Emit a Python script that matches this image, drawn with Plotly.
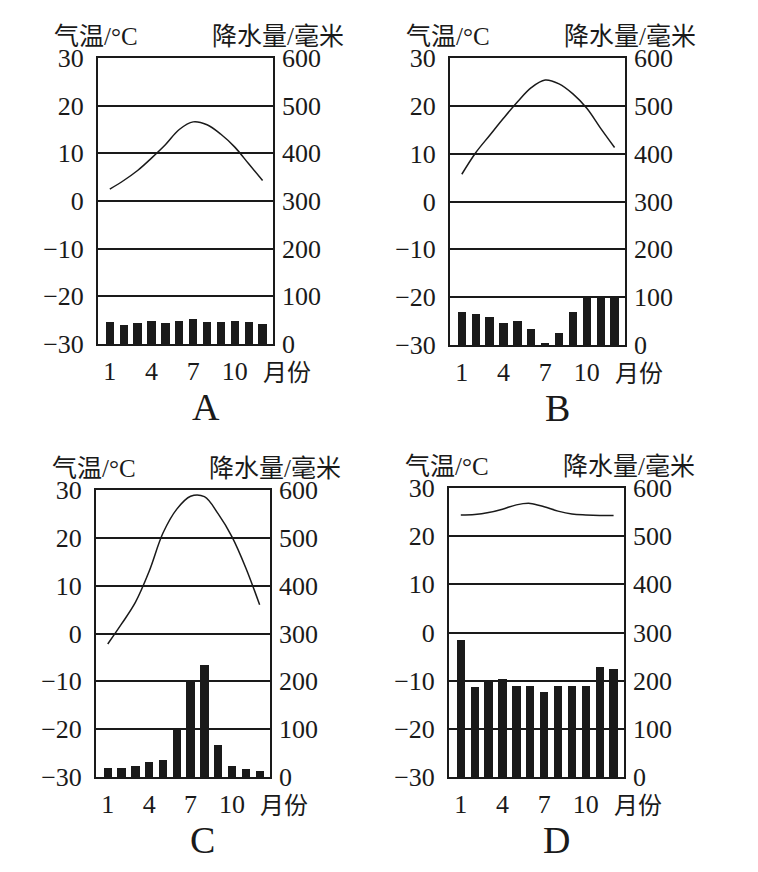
import plotly.graph_objects as go

months = list(range(1, 13))
month_ticks = [1, 4, 7, 10]

# temperature (°C) and precipitation (mm) per month
temp_a = [2.5, 4.3, 6.4, 9.0, 11.8, 15.0, 16.6, 16.0, 14.0, 11.3, 7.8, 4.3]
rain_a = [46, 40, 44, 49, 44, 48, 52, 46, 46, 49, 46, 42]

temp_b = [5.7, 10.2, 13.8, 17.4, 20.8, 23.8, 25.4, 24.6, 22.5, 19.5, 15.3, 11.3]
rain_b = [70, 65, 58, 45, 50, 34, 5, 26, 70, 100, 100, 100]

temp_c = [-2.2, 2.0, 6.5, 13.0, 21.0, 26.0, 28.7, 28.6, 25.0, 20.2, 13.7, 6.0]
rain_c = [19, 19, 24, 32, 36, 100, 200, 235, 66, 24, 17, 12]

temp_d = [24.4, 24.5, 24.9, 25.6, 26.5, 26.8, 26.1, 25.2, 24.6, 24.4, 24.3, 24.3]
rain_d = [285, 187, 200, 203, 189, 189, 176, 189, 189, 189, 229, 225]

temp_ticks = [-30, -20, -10, 0, 10, 20, 30]
rain_ticks = [0, 100, 200, 300, 400, 500, 600]

panels = [
    ("A", temp_a, rain_a),
    ("B", temp_b, rain_b),
    ("C", temp_c, rain_c),
    ("D", temp_d, rain_d),
]

# the page body has an 8px margin, so the figure is drawn 16px smaller
# and every position below is given in window pixels
PAD = 8
W, H = 758 - 2 * PAD, 872 - 2 * PAD
# plot boxes in window pixels: left, right, top, bottom
boxes = [(98, 273, 58, 344), (450, 625, 58, 345), (96, 270, 490, 777), (449, 624, 488, 777)]

SERIF = "Liberation Serif"
CJK = "Noto Sans CJK SC"
INK = "#1a1a1a"


def px(x):
    return (x - PAD) / W


def py(y):
    return 1 - (y - PAD) / H


def serif(s):
    return "<span style='font-family:%s'>%s</span>" % (SERIF, s)


fig = go.Figure()
layout = dict(
    width=W, height=H,
    margin=dict(l=0, r=0, t=0, b=0, autoexpand=False),
    paper_bgcolor="white", plot_bgcolor="white",
    showlegend=False, bargap=0,
    font=dict(family=SERIF, color=INK),
)
annotations = []

for i, (name, temp, rain) in enumerate(panels):
    n = i + 1
    xa = "x" if n == 1 else "x%d" % n
    yt = 2 * n - 1
    yr = 2 * n
    yta = "y" if yt == 1 else "y%d" % yt
    yra = "y%d" % yr
    l, r, t, b = boxes[i]

    fig.add_trace(go.Bar(x=months, y=rain, width=0.6, marker=dict(color=INK, line=dict(width=0)),
                         xaxis=xa, yaxis=yra))
    fig.add_trace(go.Scatter(x=months, y=temp, mode="lines",
                             line=dict(color=INK, width=1.5, shape="spline", smoothing=1.0),
                             xaxis=xa, yaxis=yta))

    xkey = "xaxis" if n == 1 else "xaxis%d" % n
    ytkey = "yaxis" if yt == 1 else "yaxis%d" % yt
    yrkey = "yaxis%d" % yr

    layout[xkey] = dict(
        domain=[px(l), px(r)], anchor=yta, range=[0.15, 12.75], automargin=False,
        tickvals=month_ticks, ticktext=[str(m) for m in month_ticks],
        showgrid=False, zeroline=False, showline=True, mirror=True,
        linecolor=INK, linewidth=2, ticks="",
        tickfont=dict(family=SERIF, size=26, color=INK),
        ticklabelstandoff=3, fixedrange=True,
    )
    layout[ytkey] = dict(
        domain=[py(b), py(t)], anchor=xa, range=[-30, 30], automargin=False,
        tickvals=temp_ticks, showgrid=True, gridcolor=INK, gridwidth=1.8,
        zeroline=False, showline=True, mirror=True, linecolor=INK, linewidth=2,
        ticks="", tickfont=dict(family=SERIF, size=26, color=INK),
        ticklabelstandoff=7, fixedrange=True,
    )
    layout[yrkey] = dict(
        domain=[py(b), py(t)], anchor=xa, overlaying=yta, side="right", range=[0, 600],
        automargin=False, tickvals=rain_ticks, showgrid=False, zeroline=False, showline=False,
        ticks="", tickfont=dict(family=SERIF, size=26, color=INK),
        ticklabelstandoff=8, fixedrange=True,
    )

    # axis titles above the box
    annotations.append(dict(text="气温" + serif("/°C"), x=px(l - 2), y=py(t - 24),
                            xref="paper", yref="paper", xanchor="center", yanchor="middle",
                            showarrow=False, font=dict(family=CJK, size=25, color=INK)))
    annotations.append(dict(text="降水量" + serif("/") + "毫米", x=px(r + 5), y=py(t - 24),
                            xref="paper", yref="paper", xanchor="center", yanchor="middle",
                            showarrow=False, font=dict(family=CJK, size=25, color=INK)))
    # month unit next to the x tick labels
    annotations.append(dict(text="月份", x=px(r + 14), y=py(b + 26), xref="paper", yref="paper",
                            xanchor="center", yanchor="middle", showarrow=False,
                            font=dict(family=CJK, size=24, color=INK)))
    # panel letter
    annotations.append(dict(text=name, x=px((l + r) / 2 + 20), y=py(b + 63), xref="paper", yref="paper",
                            xanchor="center", yanchor="middle", showarrow=False,
                            font=dict(family=SERIF, size=38, color=INK)))

layout["annotations"] = annotations
fig.update_layout(**layout)

fig.write_html("out.html")
